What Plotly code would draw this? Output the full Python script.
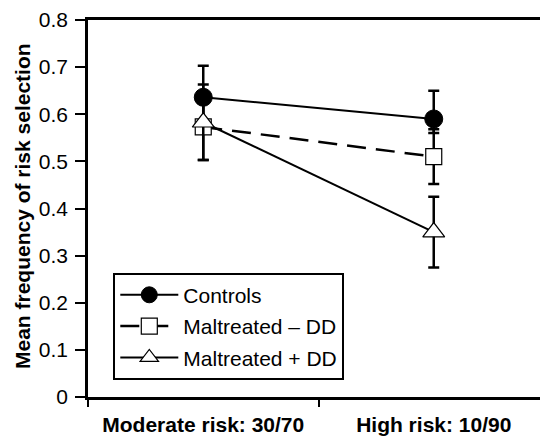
import plotly.graph_objects as go

categories = ["Moderate risk: 30/70", "High risk: 10/90"]
series_names = ["Controls", "Maltreated \u2013 DD", "Maltreated + DD"]
controls = [0.636, 0.590]
controls_err_plus = [0.067, 0.060]
controls_err_minus = [0.067, 0.030]
maltreated_no_dd = [0.573, 0.510]
maltreated_no_dd_err = [0.070, 0.058]
maltreated_dd = [0.583, 0.350]
maltreated_dd_err = [0.080, 0.075]
y_ticks = [0, 0.1, 0.2, 0.3, 0.4, 0.5, 0.6, 0.7, 0.8]
y_tick_labels = ["0", "0.1", "0.2", "0.3", "0.4", "0.5", "0.6", "0.7", "0.8"]
y_title = "Mean frequency of risk selection"

FONT = "Liberation Sans, Arial, Helvetica, sans-serif"
err_style = dict(type="data", color="black", thickness=2.5, width=5.5)

fig = go.Figure()
fig.add_trace(go.Scatter(
    x=categories, y=controls, name=series_names[0], mode="lines+markers",
    line=dict(color="black", width=2),
    marker=dict(symbol="circle", size=18, color="black", line=dict(color="black", width=1)),
    error_y=dict(array=controls_err_plus, arrayminus=controls_err_minus, symmetric=False, **err_style),
    legendgroup="a",
))
fig.add_trace(go.Scatter(
    x=categories, y=maltreated_no_dd, name=series_names[1], mode="lines+markers",
    line=dict(color="black", width=2.5, dash="19px,10px"),
    marker=dict(symbol="square", size=16, color="white", line=dict(color="black", width=1.2)),
    error_y=dict(array=maltreated_no_dd_err, **err_style),
    legendgroup="b",
))
fig.add_trace(go.Scatter(
    x=categories, y=maltreated_dd, name=series_names[2], mode="lines+markers",
    line=dict(color="black", width=2),
    marker=dict(symbol="triangle-up", size=19, color="white", line=dict(color="black", width=1.2)),
    error_y=dict(array=maltreated_dd_err, **err_style),
    legendgroup="c",
))

# page body has an 8px default margin; figure is sized to fit the window
fig.update_layout(
    width=540, height=431,
    margin=dict(l=80, r=0, t=12, b=42),
    paper_bgcolor="white", plot_bgcolor="white",
    font=dict(family=FONT, size=21, color="black"),
    showlegend=True,
    legend=dict(
        x=0.055, y=0.046, xanchor="left", yanchor="bottom",
        bgcolor="white", bordercolor="black", borderwidth=2,
        font=dict(family=FONT, size=21, color="black"),
        tracegroupgap=1, itemwidth=58,
    ),
    annotations=[dict(
        text="<b>" + y_title + "</b>", textangle=-90,
        xref="paper", yref="paper", x=-0.141, y=0.507,
        xanchor="center", yanchor="middle", showarrow=False,
        font=dict(family=FONT, size=21, color="black"),
    )],
)
fig.update_xaxes(
    type="category", range=[-0.5, 1.4957], tickson="boundaries",
    ticks="outside", ticklen=7, tickwidth=1.5, tickcolor="black",
    showline=True, linecolor="black", linewidth=2.5, mirror=True,
    showgrid=False, zeroline=False, automargin=False,
    ticklabelstandoff=7,
    tickfont=dict(family=FONT, size=21, color="black", weight="bold"),
)
fig.update_yaxes(
    range=[0, 0.8], tickvals=y_ticks, ticktext=y_tick_labels,
    ticks="outside", ticklen=10, tickwidth=1.5, tickcolor="black",
    showline=True, linecolor="black", linewidth=2.5,
    showgrid=False, zeroline=False, automargin=False,
    ticklabelstandoff=3,
    tickfont=dict(family=FONT, size=21, color="black"),
)

fig.write_html("out.html")
